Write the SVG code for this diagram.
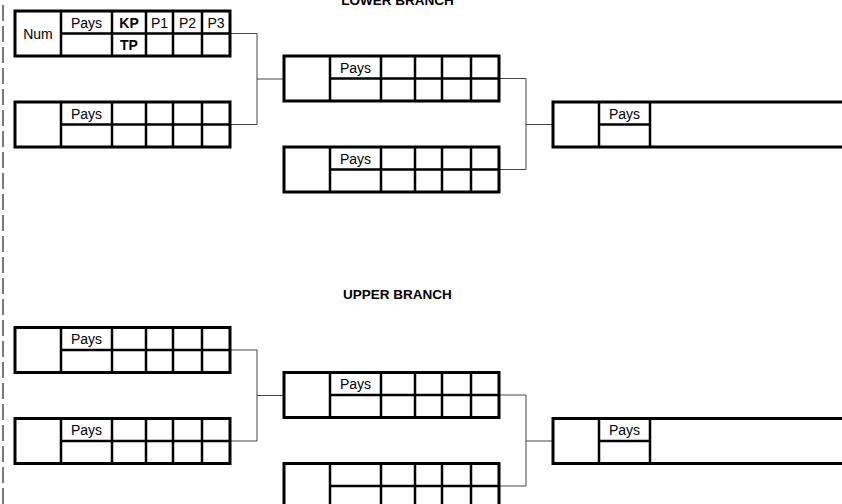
<svg xmlns="http://www.w3.org/2000/svg" width="842" height="504" viewBox="0 0 842 504">
<defs>
<style>
.bg{fill:#fff}
.outer{fill:none;stroke:#000;stroke-width:3}
.inner{fill:none;stroke:#000;stroke-width:2.5}
.conn{fill:none;stroke:#444;stroke-width:1}
.dash{fill:none;stroke:#333;stroke-width:1.3;stroke-dasharray:16 5}
.t{font-family:"Liberation Sans",Arial,sans-serif;font-size:14px;fill:#000;text-anchor:middle}
.b{font-weight:bold}
.title{font-family:"Liberation Sans",Arial,sans-serif;font-size:13.5px;font-weight:bold;fill:#000;text-anchor:middle}
</style>
<g id="cells">
<rect class="bg" x="0" y="0" width="215" height="45"/>
<path class="inner" d="M46,0V45M97,0V45M131,0V45M158,0V45M187,0V45M46,22.5H215"/>
<rect class="outer" x="0" y="0" width="215" height="45"/>
</g>
<g id="finalcells">
<rect class="bg" x="0" y="0" width="300" height="45"/>
<path class="inner" d="M46,0V45M97,0V45M46,22.5H97"/>
<path class="outer" d="M300,0H0V45H300"/>
</g>
</defs>
<rect width="842" height="504" fill="#fff"/>
<line class="dash" x1="3" y1="-16" x2="3" y2="504"/>
<text class="title" x="397.5" y="5">LOWER BRANCH</text>
<text class="title" x="397.5" y="299">UPPER BRANCH</text>
<g id="connectors">
<path class="conn" d="M230,33.5H257V124.5H230M257,79H284"/>
<path class="conn" d="M499,78.5H526V169.5H499M526,124.5H553"/>
<path class="conn" d="M230,350H257V441H230M257,395.5H284"/>
<path class="conn" d="M499,395H526V486H499M526,441H553"/>
</g>
<g id="lower-r1-a" transform="translate(15,11)">
<use href="#cells"/>
<text class="t" x="23" y="27.5">Num</text>
<text class="t" x="71.5" y="16.5">Pays</text>
<text class="t b" x="114" y="16.5">KP</text>
<text class="t b" x="114" y="39">TP</text>
<text class="t" x="144.5" y="16.5">P1</text>
<text class="t" x="172.5" y="16.5">P2</text>
<text class="t" x="201" y="16.5">P3</text>
</g>
<g id="lower-r1-b" transform="translate(15,102)">
<use href="#cells"/>
<text class="t" x="71.5" y="16.5">Pays</text>
</g>
<g id="lower-r2-a" transform="translate(284,56)">
<use href="#cells"/>
<text class="t" x="71.5" y="16.5">Pays</text>
</g>
<g id="lower-r2-b" transform="translate(284,147)">
<use href="#cells"/>
<text class="t" x="71.5" y="16.5">Pays</text>
</g>
<g id="lower-final" transform="translate(553,102)">
<use href="#finalcells"/>
<text class="t" x="71.5" y="16.5">Pays</text>
</g>
<g id="upper-r1-a" transform="translate(15,327.5)">
<use href="#cells"/>
<text class="t" x="71.5" y="16.5">Pays</text>
</g>
<g id="upper-r1-b" transform="translate(15,418.5)">
<use href="#cells"/>
<text class="t" x="71.5" y="16.5">Pays</text>
</g>
<g id="upper-r2-a" transform="translate(284,372.5)">
<use href="#cells"/>
<text class="t" x="71.5" y="16.5">Pays</text>
</g>
<g id="upper-r2-b" transform="translate(284,463.5)">
<use href="#cells"/>
</g>
<g id="upper-final" transform="translate(553,418.5)">
<use href="#finalcells"/>
<text class="t" x="71.5" y="16.5">Pays</text>
</g>
</svg>
